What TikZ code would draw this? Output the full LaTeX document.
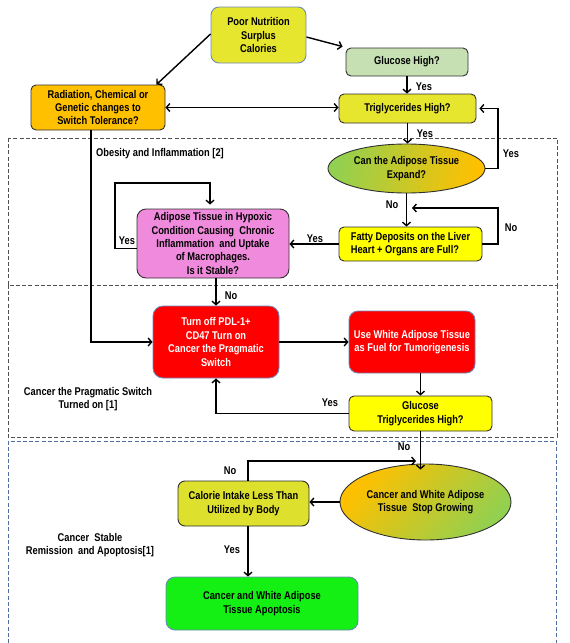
\documentclass[tikz,border=0pt]{standalone}
\usepackage{fontspec}
\setmainfont[FakeStretch=0.83]{Liberation Sans}
\usetikzlibrary{arrows.meta,shapes.geometric}
\definecolor{cPN}{HTML}{E6E62E}
\definecolor{cGL}{HTML}{C6E0B4}
\definecolor{cOR}{HTML}{FFC000}
\definecolor{cYE}{HTML}{FFFF00}
\definecolor{cPK}{HTML}{F08ADC}
\definecolor{cRD}{HTML}{FF0000}
\definecolor{cCA}{HTML}{DDE02C}
\definecolor{cAP}{HTML}{14F014}
\definecolor{cGR}{HTML}{92D050}
\definecolor{bdark}{HTML}{303030}
\definecolor{bblue}{HTML}{7088B8}
\definecolor{dashblue}{HTML}{4F6FA0}
\definecolor{dashgray}{HTML}{505050}
\begin{document}
\begin{tikzpicture}[x=1pt,y=-1pt,
  font=\fontsize{11.2}{13.4}\selectfont\bfseries,
  box/.style={draw=bdark, line width=0.9pt, rounded corners=5pt, align=center, inner sep=1pt},
  oval/.style={ellipse, draw=bdark, line width=0.9pt, align=center, inner sep=0pt},
  arr/.style={line width=1.4pt, -{Straight Barb[length=3.5pt,width=8pt]}},
  darr/.style={line width=1.4pt, {Straight Barb[length=3.5pt,width=8pt]}-{Straight Barb[length=3.5pt,width=8pt]}},
  lbl/.style={inner sep=1pt},
  zone/.style={line width=0.9pt, dash pattern=on 4pt off 2.2pt}]
\useasboundingbox (0,0) rectangle (570,643);

% zones
\draw[zone, dashgray] (8,138) rectangle (557,285);
\draw[zone, dashgray] (8,285) -- (8,437) -- (557,437) -- (557,285);
\draw[zone, dashblue] (8,643) -- (8,441) -- (556,441) -- (556,643);

\node[lbl, anchor=west] (lob) at (95,154) {Obesity and Inflammation [2]};
\node[lbl, align=center] (lcp) at (88,399) {Cancer the Pragmatic Switch\\Turned on [1]};
\node[lbl, align=center] (lcs) at (90,545) {Cancer\ \ Stable\\Remission\ \ and Apoptosis[1]};

% nodes
\node[box, fill=cPN, draw=bblue, rounded corners=8pt, minimum width=95pt, minimum height=56pt] (pn) at (258.5,35) {Poor Nutrition\\Surplus\\Calories};
\node[box, fill=cGL, minimum width=122pt, minimum height=28pt] (gh) at (407,62) {Glucose High?};
\node[box, fill=cPN, minimum width=137pt, minimum height=29pt] (tg) at (407.5,108.5) {Triglycerides High?};
\node[box, fill=cOR, minimum width=134pt, minimum height=45pt] (rad) at (98,107.5) {Radiation, Chemical or\\Genetic changes to\\Switch Tolerance?};
\node[oval, left color=cGR, right color=cOR, shading angle=80, minimum width=157pt, minimum height=49pt] (e1) at (406.5,168.5) {Can the Adipose Tissue\\Expand?};
\node[box, fill=cYE, align=left, minimum width=143pt, minimum height=34pt] (fat) at (410.5,244) {Fatty Deposits on the Liver\\Heart + Organs are Full?};
\node[box, fill=cPK, rounded corners=9pt, minimum width=152pt, minimum height=69pt] (pink) at (213,243.5) {Adipose Tissue in Hypoxic\\Condition Causing\ \ Chronic\\Inflammation\ \ and Uptake\\of Macrophages.\\Is it Stable?};
\node[box, fill=cRD, draw=bblue, rounded corners=10pt, text=white, minimum width=126pt, minimum height=72pt] (to) at (216,342) {Turn off PDL-1+\\CD47 Turn on\\Cancer the Pragmatic\\Switch};
\node[box, fill=cRD, draw=bblue, rounded corners=9pt, text=white, minimum width=126pt, minimum height=62pt] (uw) at (412,342) {Use White Adipose Tissue\\as Fuel for Tumorigenesis};
\node[box, fill=cYE, minimum width=143pt, minimum height=35pt] (gt) at (420.5,413.5) {Glucose\\Triglycerides High?};
\node[oval, top color=cOR, bottom color=cGR, shading angle=50, minimum width=171pt, minimum height=76pt] (e2) at (425.5,502) {Cancer and White Adipose\\Tissue\ \ Stop Growing};
\node[box, fill=cCA, rounded corners=7pt, minimum width=131pt, minimum height=45pt] (cal) at (243.5,503.5) {Calorie Intake Less Than\\Utilized by Body};
\node[box, fill=cAP, draw=bblue, rounded corners=9pt, minimum width=192pt, minimum height=53pt] (apo) at (262,603.5) {Cancer and White Adipose\\Tissue Apoptosis};

% helper coordinates
\coordinate (loopR) at (498,0);
\coordinate (c1) at (412,208);
\coordinate (lp1) at (115,183);
\coordinate (c2) at (416,461);

% connectors
\draw[arr] ([yshift=1pt]pn.west) -- ([xshift=-9pt]rad.north east);
\draw[arr] ([yshift=-2pt]pn.east) -- ([xshift=-3pt,yshift=1pt]gh.north west);
\draw[arr] (gh.south) -- (gh.south |- tg.north);
\draw[darr] (rad.east) -- (rad.east -| tg.west);
\draw[arr] (tg.south) -- (tg.south |- e1.north);
\draw[arr, shorten >=3pt] (e1.east) -| (loopR |- tg.east) -- (tg.east);
\draw[arr] (e1.south) -- (e1.south |- fat.north);
\draw[arr] (fat.east) -| (loopR |- c1) -- (c1);
\draw[arr] (fat.west) -- (fat.west -| pink.east);
\draw[arr] ([yshift=-5pt]pink.west) -| (lp1) -| ([xshift=-3pt,yshift=4pt]pink.north);
\draw[arr] (to.north |- pink.south) -- (to.north);
\draw[arr] ([xshift=-7pt]rad.south) |- (to.west);
\draw[arr] (to.east) -- (uw.west);
\draw[arr] (gt.north |- uw.south) -- (gt.north);
\draw[arr] (gt.west) -| (to.south);
\draw[arr] (gt.south) -- ([yshift=-6pt]gt.south |- e2.north);
\draw[arr] ([xshift=4.5pt]cal.north) |- (c2);
\draw[arr] (e2.west) -- (e2.west -| cal.east);
\draw[arr] ([xshift=4.5pt]cal.south) -- ([xshift=4.5pt]cal.south |- apo.north);

% labels
\node[lbl] (y1) at (424,87) {Yes};
\node[lbl] (y2) at (425,134) {Yes};
\node[lbl] (y3) at (511,154) {Yes};
\node[lbl] (n1) at (392,205) {No};
\node[lbl] (n2) at (511,228) {No};
\node[lbl] (y4) at (315,239) {Yes};
\node[lbl] (y5) at (127,241) {Yes};
\node[lbl] (n3) at (231,296) {No};
\node[lbl] (y6) at (330,403) {Yes};
\node[lbl] (n4) at (404,447) {No};
\node[lbl] (n5) at (230,471) {No};
\node[lbl] (y7) at (232,550) {Yes};
\end{tikzpicture}
\end{document}
